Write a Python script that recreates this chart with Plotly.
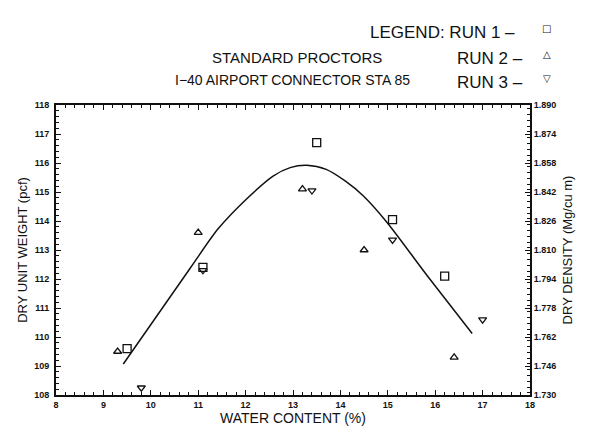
import plotly.graph_objects as go

# Proctor compaction test results, three runs
run1_w = [9.5, 11.1, 13.5, 15.1, 16.2]
run1_d = [109.6, 112.4, 116.7, 114.05, 112.1]

run2_w = [9.3, 11.0, 13.2, 14.5, 16.4]
run2_d = [109.5, 113.6, 115.1, 113.0, 109.3]

run3_w = [9.8, 11.1, 13.4, 15.1, 17.0]
run3_d = [108.25, 112.3, 115.05, 113.35, 110.6]

# Fitted compaction curve
curve_w = [9.42, 10.83, 11.42, 12.02, 12.58, 12.94, 13.29, 13.7, 14.1, 14.48, 14.98, 15.82, 16.78]
curve_d = [109.07, 112.37, 113.73, 114.76, 115.55, 115.84, 115.92, 115.78, 115.38, 114.87, 113.96, 112.14, 110.12]

x_ticks = list(range(8, 19))
y_ticks = list(range(108, 119))
y2_ticks = [1.730, 1.746, 1.762, 1.778, 1.794, 1.810, 1.826, 1.842, 1.858, 1.874, 1.890]

BLACK = "#111111"
TXT = "Liberation Sans"

fig = go.Figure()

fig.add_trace(go.Scatter(
    x=curve_w, y=curve_d, mode="lines", line=dict(color=BLACK, width=1.5, shape="spline", smoothing=0.8),
    showlegend=False, hoverinfo="skip"))

marker_common = dict(color=BLACK, line=dict(color=BLACK, width=1.3))
fig.add_trace(go.Scatter(x=run1_w, y=run1_d, mode="markers", name="RUN 1",
                         marker=dict(symbol="square-open", size=8, **marker_common), showlegend=False))
fig.add_trace(go.Scatter(x=run2_w, y=run2_d, mode="markers", name="RUN 2",
                         marker=dict(symbol="triangle-up-open", size=7, **marker_common), showlegend=False))
fig.add_trace(go.Scatter(x=run3_w, y=run3_d, mode="markers", name="RUN 3",
                         marker=dict(symbol="triangle-down-open", size=7, **marker_common), showlegend=False))

# Invisible trace so the metric axis is drawn
fig.add_trace(go.Scatter(x=[8], y=[1.73], yaxis="y2", mode="markers", marker=dict(opacity=0),
                         showlegend=False, hoverinfo="skip"))

tickfont = dict(family=TXT, size=9, color=BLACK, weight="bold")
axis_common = dict(showgrid=False, zeroline=False, showline=True, linecolor=BLACK, linewidth=2,
                   ticks="inside", ticklen=5, tickwidth=1.2, tickcolor=BLACK, tickfont=tickfont)

fig.update_layout(
    width=591, height=434,
    margin=dict(l=56, r=61, t=105, b=37),
    paper_bgcolor="white", plot_bgcolor="white",
    font=dict(family=TXT, color=BLACK),
    xaxis=dict(range=[8, 18], tickvals=x_ticks, ticktext=[str(v) for v in x_ticks],
               mirror="ticks",
               minor=dict(dtick=0.2, ticks="inside", ticklen=3, tickcolor=BLACK, tickwidth=1),
               title=dict(text="WATER CONTENT (%)", font=dict(family=TXT, size=14, color=BLACK), standoff=2),
               **axis_common),
    yaxis=dict(range=[108, 118], tickvals=y_ticks, ticktext=[str(v) for v in y_ticks],
               ticklabelstandoff=3,
               minor=dict(dtick=0.2, ticks="inside", ticklen=3, tickcolor=BLACK, tickwidth=1),
               title=dict(text="DRY UNIT WEIGHT (pcf)", font=dict(family=TXT, size=13, color=BLACK), standoff=4),
               **axis_common),
    yaxis2=dict(range=[1.730, 1.890], tickvals=y2_ticks, ticktext=[f"{v:.3f}" for v in y2_ticks],
                overlaying="y", side="right",
                minor=dict(dtick=0.0032, ticks="inside", ticklen=3, tickcolor=BLACK, tickwidth=1),
                title=dict(text="DRY DENSITY (Mg/cu m)", font=dict(family=TXT, size=13, color=BLACK), standoff=8),
                **axis_common),
)

W, H = 591, 434
pw, ph = W - 56 - 61, H - 105 - 37


def px(xp):
    return (xp - 56) / pw


def py(yp):
    return (H - 37 - yp) / ph


# Titles
fig.add_annotation(text="STANDARD PROCTORS", x=px(297), y=py(47), xref="paper", yref="paper",
                   showarrow=False, font=dict(family=TXT, size=15, color=BLACK))
fig.add_annotation(text="I\u221240 AIRPORT CONNECTOR STA 85", x=px(292), y=py(70), xref="paper", yref="paper",
                   showarrow=False, font=dict(family=TXT, size=14, color=BLACK))

# Legend block
legend_rows = [("LEGEND: RUN 1 \u2013", "\u25a1", 20, 368), ("RUN 2 \u2013", "\u25b3", 47, 455), ("RUN 3 \u2013", "\u25bd", 71, 455)]

for label, sym, ypix, xleft in legend_rows:
    fig.add_annotation(text=label, x=px(xleft), y=py(ypix), xref="paper", yref="paper",
                       xanchor="left", showarrow=False, font=dict(family=TXT, size=17, color=BLACK))
    fig.add_annotation(text=sym, x=px(553), y=py(ypix), xref="paper", yref="paper",
                       showarrow=False, font=dict(family="DejaVu Sans", size=10, color=BLACK))

fig.write_html("out.html")
